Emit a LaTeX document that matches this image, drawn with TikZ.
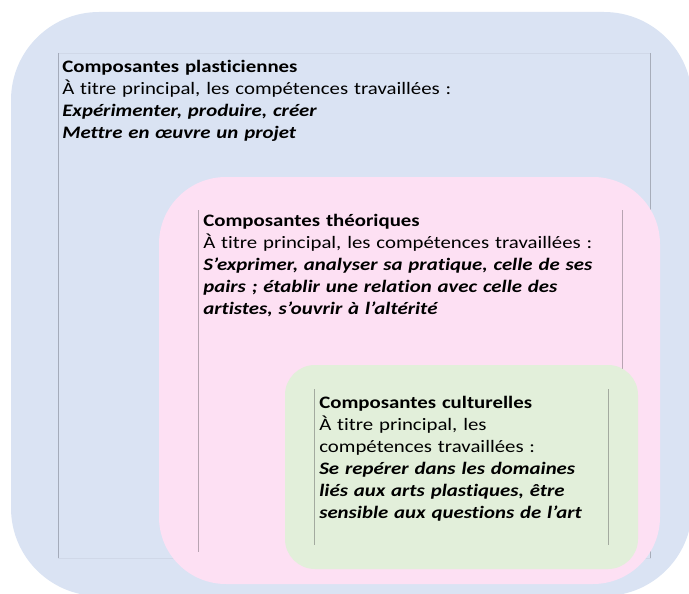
\documentclass[tikz,border=0pt]{standalone}
\usepackage{fontspec}
\setmainfont{Carlito}[FakeStretch=1.19,Ligatures=NoCommon]
\definecolor{lightblue}{HTML}{DAE3F3}
\definecolor{lightpink}{HTML}{FDE0F3}
\definecolor{lightgreen}{HTML}{E2EFDA}
\definecolor{edgeblue}{HTML}{D0D8E8}
\definecolor{lineblue}{HTML}{A4ABBA}
\definecolor{linepink}{HTML}{B8A4B2}
\definecolor{linegreen}{HTML}{A3AA9F}
\newcommand{\competence}[1]{\textbf{\textit{#1}}}

\begin{document}
\begin{tikzpicture}[x=1pt,y=-1pt,
    every node/.style={inner sep=0pt,outer sep=0pt},
    zone/.style={anchor=north west,rounded corners=#1},
    cadre/.style={anchor=north west,draw=#1,line width=0.5pt},
    texte/.style={anchor=base west,text width=460pt,align=left,
      font=\fontsize{17.5}{22}\selectfont}]
  \useasboundingbox (0,0) rectangle (689,594);
  \clip (0,0) rectangle (689,594);
  \draw
    (11,12) node[zone=88,fill=lightblue,minimum width=681,minimum height=584] (plast) {}
    (58.5,53) node[cadre=edgeblue,minimum width=591.5,minimum height=505] (plastBox) {};
  \draw[lineblue,line width=0.8pt] (plastBox.north west) -- (plastBox.south west);
  \draw[edgeblue!80!black,line width=0.6pt] (plastBox.north east) -- (plastBox.south east);
  \node[texte] (plastTxt) at (62.3,72.5) {\textbf{Composantes plasticiennes}\\
    À titre principal, les compétences travaillées :\\
    \competence{Expérimenter, produire, créer}\\
    \competence{Mettre en œuvre un projet}};
  \draw
    (159,177) node[zone=67,fill=lightpink,minimum width=501,minimum height=407] (theo) {}
    (198.7,210) node[cadre=lightpink,minimum width=424,minimum height=342] (theoBox) {};
  \draw[linepink,line width=0.8pt] (theoBox.north west) -- (theoBox.south west)
    (theoBox.north east) -- (theoBox.south east);
  \node[texte] (theoTxt) at (203.3,226.7) {\textbf{Composantes théoriques}\\
    À titre principal, les compétences travaillées :\\
    \competence{S’exprimer, analyser sa pratique, celle de ses\\
    pairs ; établir une relation avec celle des\\
    artistes, s’ouvrir à l’altérité}};
  \draw
    (285,365) node[zone=30,fill=lightgreen,minimum width=353,minimum height=204] (cult) {}
    (314.3,389) node[cadre=lightgreen,minimum width=294,minimum height=156] (cultBox) {};
  \draw[linegreen,line width=0.8pt] (cultBox.north west) -- (cultBox.south west)
    (cultBox.north east) -- (cultBox.south east);
  \node[texte] (cultTxt) at (319.3,408) {\textbf{Composantes culturelles}\\
    À titre principal, les\\
    compétences travaillées :\\
    \competence{Se repérer dans les domaines\\
    liés aux arts plastiques, être\\
    sensible aux questions de l’art}};
\end{tikzpicture}
\end{document}
